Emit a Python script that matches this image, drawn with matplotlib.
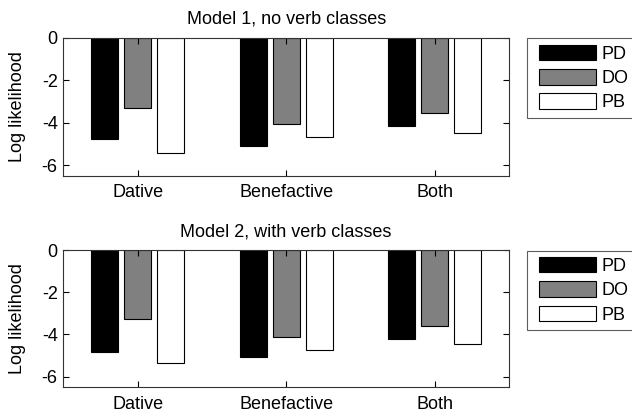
import matplotlib
matplotlib.use("Agg")
import matplotlib.pyplot as plt
from matplotlib.patches import Rectangle
from matplotlib.container import BarContainer
from matplotlib.legend_handler import HandlerPatch, update_from_first_child
import numpy as np

plt.rcParams['font.family'] = ['Liberation Sans', 'DejaVu Sans']

categories = ["Dative", "Benefactive", "Both"]
series_names = ["PD", "DO", "PB"]
model1 = {
    "PD": [-4.79, -5.10, -4.16],
    "DO": [-3.33, -4.08, -3.56],
    "PB": [-5.42, -4.66, -4.51],
}
model2 = {
    "PD": [-4.82, -5.08, -4.19],
    "DO": [-3.27, -4.11, -3.59],
    "PB": [-5.37, -4.74, -4.47],
}
titles = ["Model 1, no verb classes", "Model 2, with verb classes"]
colors = {"PD": "#000000", "DO": "#808080", "PB": "#ffffff"}
yticks = [0, -2, -4, -6]
ytick_labels = ["0", "-2", "-4", "-6"]

W, H = 632, 415
fig = plt.figure(figsize=(W / 100, H / 100), dpi=100)

def fr(l, t, r, b):
    return [l / W, 1 - b / H, (r - l) / W, (b - t) / H]

SHIFT = 5.0  # pixels (== points at 72/100 scale handled below)

def shifted_patch(legend, orig_handle, xdescent, ydescent, width, height, fontsize):
    s = SHIFT * 72.0 / 100.0
    return Rectangle((-xdescent + s, -ydescent), width - s, height)

handler = HandlerPatch(patch_func=shifted_patch, update_func=update_from_first_child)

axes_px = [(63.3, 37.7, 509.0, 175.7), (63.3, 250.0, 509.0, 387.3)]
x = np.arange(1, len(categories) + 1)
offsets = [-0.222, 0.0, 0.222]
width = 0.18
FS = 13

for data, title, box in zip([model1, model2], titles, axes_px):
    ax = fig.add_axes(fr(*box))
    handles = []
    for off, name in zip(offsets, series_names):
        h = ax.bar(x + off, data[name], width=width, color=colors[name],
                   edgecolor="black", linewidth=0.8, label=name)
        handles.append(h)
    ax.set_xlim(0.5, 3.5)
    ax.set_ylim(-6.5, 0)
    ax.set_yticks(yticks)
    ax.set_yticklabels(ytick_labels)
    ax.set_xticks(x)
    ax.set_xticklabels(categories)
    ax.tick_params(direction="in", length=4, width=0.8, top=True, right=True,
                   labelsize=FS)
    ax.tick_params(axis="x", pad=6)
    ax.tick_params(axis="y", pad=4)
    for s in ax.spines.values():
        s.set_linewidth(0.8)
        s.set_color("#333333")
    ax.set_ylabel("Log likelihood", fontsize=FS, labelpad=11)
    ax.set_title(title, fontsize=FS, pad=10)
    leg = fig.legend(handles=handles, labels=series_names,
                     loc="upper left",
                     bbox_to_anchor=(527.3 / W, 1 - (box[1] + 0.6) / H),
                     borderaxespad=0, frameon=True, fancybox=False,
                     edgecolor="#333333", fontsize=FS,
                     handlelength=3.45, handleheight=0.95, labelspacing=0.35,
                     handletextpad=0.33, borderpad=0.35,
                     handler_map={BarContainer: handler})
    leg.get_frame().set_linewidth(0.8)

fig.savefig("out.png", dpi=100)
